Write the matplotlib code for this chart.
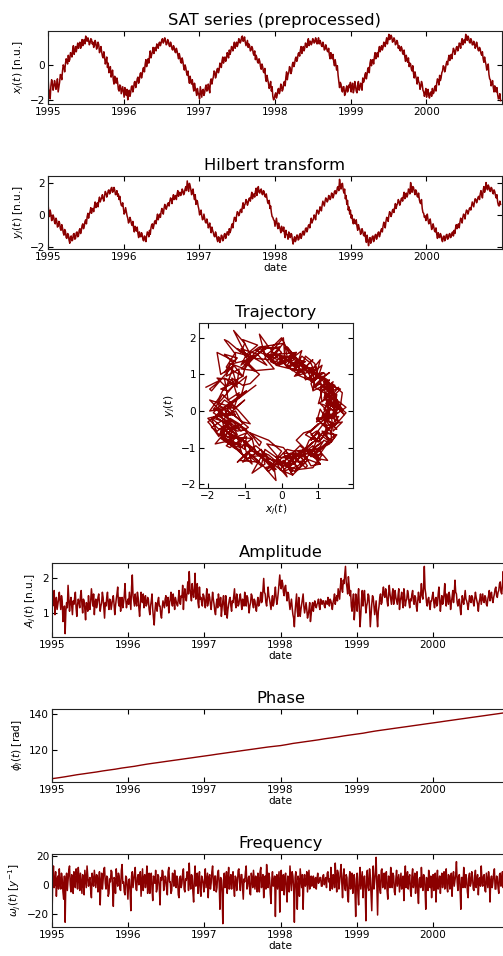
import numpy as np
import pandas as pd
import matplotlib
matplotlib.use("Agg")
import matplotlib.pyplot as plt
import matplotlib.dates as mdates
from matplotlib.ticker import MultipleLocator

# ---------------- data (half-week samples) ----------------
start_date = "1995-01-01"
step = "84h"   # 3.5 days

x_1995 = [-0.70, -1.35, -1.55, -1.95, -1.20, -0.85, -1.05, -1.45, -1.25, -0.90, -1.10, -1.40, -1.15, -0.80, -1.55, -1.25,
          -0.99, -0.55, -0.60, -0.85, -0.35, 0.00, -0.10, -0.40, 0.05, 0.35, 0.25, 0.05, 0.55, 0.20, 0.30, 0.70, 0.65, 0.45,
          0.85, 1.10, 0.60, 0.80, 1.05, 0.75, 1.00, 1.25, 0.95, 1.20, 1.30, 0.95, 1.15, 1.45, 1.10, 1.35, 1.45, 1.20, 1.65,
          1.40, 1.35, 1.55, 1.40, 1.15, 1.25, 1.50, 1.45, 1.20, 1.30, 1.00, 1.10, 1.40, 1.25, 0.90, 1.05, 1.30, 1.15, 0.70,
          0.85, 1.05, 0.75, 0.50, 0.40, 0.75, 0.45, 0.05, 0.20, 0.45, -0.15, 0.10, -0.45, -0.20, -0.10, -0.70, -0.55, -0.30,
          -0.85, -1.10, -0.65, -0.95, -1.05, -0.75, -1.00, -1.40, -1.50, -1.15, -1.20, -1.65, -1.45, -1.25]
x_1996 = [-1.55, -1.85, -1.30, -1.60, -1.75, -1.40, -2.00, -1.70, -1.45, -1.80, -1.60, -1.25, -1.20, -1.55, -1.35, -1.00,
          -0.95, -1.30, -1.10, -0.80, -0.70, -1.05, -0.85, -0.50, -0.45, -0.75, -0.55, -0.20, -0.15, -0.40, 0.05, 0.30,
          -0.10, 0.15, 0.35, 0.10, 0.50, 0.80, 0.40, 0.60, 0.75, 1.00, 0.65, 0.95, 1.00, 0.80, 1.20, 1.05, 0.95, 1.25,
          1.30, 1.10, 1.25, 1.45, 1.50, 1.25, 1.35, 1.55, 1.40, 1.15, 1.20, 1.45, 1.35, 1.10, 1.05, 1.30, 1.15, 0.90,
          0.85, 1.10, 1.00, 0.75, 0.70, 0.95, 0.80, 0.55, 0.35, 0.65, 0.45, 0.15, 0.10, 0.40, 0.20, -0.10, -0.30, 0.00,
          -0.15, -0.45, -0.60, -0.35, -0.80, -1.05, -0.65, -0.95, -1.10, -0.85, -1.25, -1.50, -1.05, -1.30, -1.50, -1.75,
          -1.35, -1.60]
x_1997 = [-1.70, -1.95, -1.25, -1.55, -1.85, -1.45, -1.40, -1.75, -1.60, -1.30, -1.15, -1.50, -1.45, -1.10, -1.30, -1.60,
          -0.95, -0.80, -1.10, -0.85, -0.70, -0.35, -0.40, -0.75, -0.60, -0.25, -0.20, -0.45, -0.30, 0.10, 0.05, -0.15,
          0.25, 0.45, 0.10, 0.35, 0.45, 0.20, 0.35, 0.70, 0.60, 0.40, 0.85, 0.60, 0.75, 1.05, 1.00, 0.80, 1.10, 1.30,
          0.95, 1.15, 1.30, 1.05, 1.20, 1.50, 1.45, 1.25, 1.35, 1.60, 1.65, 1.35, 1.40, 1.60, 1.30, 1.10, 1.25, 1.40,
          1.00, 1.20, 1.10, 0.80, 0.85, 1.05, 0.95, 0.65, 0.55, 0.80, 0.30, 0.55, 0.40, 0.15, 0.10, 0.35, 0.20, -0.10,
          -0.25, 0.05, -0.10, -0.40, -0.45, -0.20, -0.75, -0.95, -0.60, -0.85, -1.05, -1.35, -1.20, -0.95, -1.50, -1.25,
          -1.80, -2.00]
x_1998 = [-1.95, -1.70, -1.60, -1.90, -1.75, -1.40, -1.35, -1.65, -1.50, -1.10, -1.20, -1.50, -1.40, -1.05, -0.95, -1.20,
          -0.70, -0.40, -0.85, -0.55, -0.45, -0.10, -0.20, -0.50, -0.35, 0.05, 0.15, -0.10, 0.05, 0.35, 0.45, 0.20, 0.35,
          0.65, 0.70, 0.50, 0.85, 1.05, 0.65, 0.90, 1.05, 0.80, 0.95, 1.25, 1.15, 1.00, 1.30, 1.50, 1.10, 1.35, 1.35,
          1.15, 1.25, 1.50, 1.45, 1.25, 1.30, 1.55, 1.40, 1.20, 1.35, 1.55, 1.20, 1.40, 1.30, 1.10, 1.05, 1.30, 1.15,
          0.85, 0.90, 1.15, 1.00, 0.80, 0.75, 0.95, 0.55, 0.35, 0.70, 0.45, 0.35, 0.60, 0.15, -0.05, 0.30, 0.00, -0.30,
          -0.05, -0.60, -0.95, -1.30, -1.00, -1.10, -1.45, -1.55, -1.25, -1.25, -1.75, -1.65, -1.35, -1.20, -1.55, -1.45,
          -1.15]
x_1999 = [-1.30, -1.00, -1.55, -1.25, -1.05, -1.60, -1.40, -0.95, -1.20, -1.50, -1.60, -1.15, -0.95, -1.45, -1.35, -1.05,
          -1.10, -1.45, -0.75, -1.00, -0.90, -0.55, -0.45, -0.80, -0.55, -0.20, -0.15, -0.45, 0.10, 0.30, -0.05, 0.25,
          0.30, 0.05, 0.45, 0.70, 0.35, 0.55, 0.70, 0.45, 0.85, 1.05, 0.75, 0.95, 1.10, 0.85, 1.00, 1.30, 1.25, 1.05,
          1.35, 1.55, 1.20, 1.45, 1.75, 1.45, 1.50, 1.70, 1.60, 1.30, 1.35, 1.55, 1.45, 1.15, 1.20, 1.40, 1.30, 0.95,
          1.10, 0.85, 0.80, 1.05, 0.95, 0.65, 0.60, 0.85, 0.45, 0.20, 0.55, 0.30, 0.15, 0.40, -0.10, 0.10, 0.05, -0.25,
          -0.35, -0.05, -0.50, -0.75, -0.40, -0.65, -0.80, -1.10, -0.70, -0.95, -1.05, -1.40, -1.25, -0.95, -1.10, -1.45,
          -1.55, -1.80]
x_2000 = [-1.60, -1.35, -1.85, -1.55, -1.40, -1.75, -1.90, -1.60, -1.55, -1.80, -1.35, -1.65, -1.60, -1.30, -1.20, -1.50,
          -1.05, -0.80, -0.90, -1.15, -0.60, -0.90, -0.75, -0.45, -0.35, -0.05, -0.10, -0.40, -0.25, 0.05, 0.20, 0.00,
          0.35, 0.55, 0.25, 0.45, 0.60, 0.35, 0.70, 0.95, 0.85, 0.60, 0.75, 1.00, 1.05, 0.80, 0.95, 1.25, 1.20, 0.95,
          1.30, 1.50, 1.15, 1.35, 1.45, 1.25, 1.75, 1.50, 1.40, 1.65, 1.55, 1.30, 1.25, 1.50, 1.40, 1.15, 1.15, 1.35,
          1.25, 0.95, 1.05, 1.30, 1.10, 0.85, 0.80, 1.00, 0.90, 0.65, 0.55, 0.75, 0.35, 0.15, 0.45, 0.20, 0.00, -0.30,
          -0.20, 0.05, -0.55, -0.80, -0.85, -1.20, -1.10, -0.90, -1.30, -1.55, -1.20, -1.45, -1.55, -1.30, -1.70, -1.95,
          -1.90, -1.65, -2.05]

y_1995 = [0.70, 0.20, -0.10, 0.30, 0.05, -0.35, -0.30, 0.00, -0.15, -0.45, -0.55, -0.20, -0.35, -0.75, -0.70, -0.40,
          -0.50, -0.85, -0.95, -0.60, -0.80, -1.10, -1.25, -0.90, -1.00, -1.40, -1.45, -1.15, -1.20, -1.55, -1.75, -1.35,
          -1.30, -1.60, -1.55, -1.20, -1.15, -1.50, -1.45, -1.10, -1.05, -1.35, -1.30, -0.95, -0.85, -1.15, -0.95, -0.65,
          -0.55, -0.85, -0.70, -0.40, -0.30, -0.55, -0.10, 0.10, -0.20, 0.05, 0.20, 0.45, 0.10, 0.35, 0.40, 0.20, 0.55,
          0.80, 0.45, 0.65, 0.75, 0.50, 0.90, 1.10, 0.80, 0.95, 1.05, 1.25, 1.00, 0.85, 1.20, 1.45, 1.35, 1.10, 1.25,
          1.50, 1.55, 1.30, 1.40, 1.65, 1.70, 1.40, 1.45, 1.70, 1.55, 1.25, 1.30, 1.50, 1.15, 1.30, 0.95, 1.15, 0.80,
          0.60, 0.55, 0.75]
y_1996 = [0.40, 0.05, 0.15, 0.45, 0.20, -0.05, -0.20, -0.50, -0.40, -0.15, -0.30, -0.55, -0.65, -0.40, -0.80, -1.05,
          -0.70, -0.95, -1.00, -0.75, -1.15, -1.40, -1.05, -1.30, -1.35, -1.10, -1.25, -1.55, -1.60, -1.30, -1.40, -1.65,
          -1.30, -1.05, -1.10, -1.35, -0.95, -1.20, -0.80, -0.60, -0.55, -0.85, -0.65, -0.40, -0.35, -0.55, -0.20, 0.05,
          -0.30, -0.10, 0.05, -0.15, 0.20, 0.40, 0.25, 0.05, 0.40, 0.65, 0.55, 0.35, 0.50, 0.70, 0.75, 0.55, 0.85, 1.05,
          0.95, 0.70, 1.05, 1.25, 0.95, 1.15, 1.20, 0.95, 1.30, 1.50, 1.15, 1.35, 1.40, 1.20, 1.30, 1.60, 1.50, 1.25,
          1.35, 1.60, 1.75, 1.50, 2.10, 1.75, 1.45, 1.95, 1.80, 1.55, 1.25, 1.50, 1.60, 1.20, 0.95, 1.25, 0.65, 0.90,
          0.85, 0.55]
y_1997 = [0.35, 0.00, 0.10, 0.30, -0.05, -0.30, -0.25, 0.05, -0.20, -0.45, -0.50, -0.25, -0.45, -0.80, -0.70, -0.50,
          -0.85, -1.10, -0.75, -0.95, -1.10, -1.30, -1.35, -1.05, -1.20, -1.50, -1.65, -1.35, -1.40, -1.70, -1.55, -1.25,
          -1.30, -1.60, -1.50, -1.20, -1.15, -1.45, -1.30, -1.05, -1.05, -1.25, -0.85, -1.10, -0.95, -0.70, -0.55, -0.80,
          -0.40, -0.15, -0.20, -0.40, -0.05, 0.20, 0.15, -0.05, 0.05, 0.30, 0.35, 0.15, 0.50, 0.75, 0.40, 0.60, 0.70,
          0.95, 0.85, 0.60, 0.75, 1.00, 1.05, 0.85, 1.15, 1.40, 1.00, 1.25, 1.30, 1.10, 1.45, 1.65, 1.20, 1.50, 1.75,
          1.40, 1.35, 1.55, 1.60, 1.30, 1.25, 1.50, 1.45, 1.15, 1.10, 1.30, 1.00, 0.75, 0.70, 0.90, 0.40, 0.55, 0.15,
          -0.10, -0.15, -0.30]
y_1998 = [-0.35, -0.70, -0.45, -0.20, -0.60, -0.85, -0.50, -0.75, -0.85, -1.10, -0.70, -0.95, -1.00, -0.75, -1.15, -1.40,
          -0.95, -1.20, -1.25, -1.50, -1.05, -1.30, -1.40, -1.15, -1.20, -1.55, -1.80, -1.50, -1.35, -1.65, -1.55, -1.25,
          -1.25, -1.55, -1.50, -1.20, -1.15, -1.45, -1.30, -1.05, -1.00, -1.25, -1.10, -0.85, -0.80, -1.05, -0.90, -0.65,
          -0.60, -0.80, -0.45, -0.20, -0.50, -0.35, -0.25, 0.00, -0.10, -0.30, 0.10, 0.30, 0.25, 0.05, 0.20, 0.50, 0.45,
          0.25, 0.60, 0.85, 0.70, 0.55, 0.85, 1.05, 1.00, 0.80, 0.90, 1.20, 1.15, 0.95, 1.05, 1.35, 1.30, 1.05, 1.20,
          1.45, 1.50, 1.30, 1.40, 1.70, 1.75, 1.50, 2.20, 1.85, 1.60, 1.90, 1.95, 1.55, 1.35, 1.60, 1.00, 1.20, 0.65,
          0.90, 0.30, 0.50]
y_1999 = [0.05, 0.30, -0.20, 0.00, -0.35, -0.55, -0.25, -0.50, -0.55, -0.30, -0.70, -0.95, -0.60, -0.80, -0.90, -1.20,
          -1.10, -0.85, -1.00, -1.25, -1.30, -1.05, -1.45, -1.70, -1.25, -1.55, -1.90, -1.55, -1.40, -1.75, -1.60, -1.35,
          -1.30, -1.65, -1.50, -1.25, -1.20, -1.50, -1.35, -1.10, -1.05, -1.35, -1.20, -0.95, -0.85, -1.05, -0.70, -0.45,
          -0.55, -0.80, -0.40, -0.15, -0.20, -0.40, -0.05, 0.20, 0.10, -0.10, 0.05, 0.30, 0.35, 0.15, 0.45, 0.70, 0.40,
          0.60, 0.70, 0.95, 0.85, 0.60, 0.75, 1.00, 1.05, 0.85, 1.15, 1.40, 1.00, 1.20, 1.35, 1.10, 1.25, 1.60, 1.55,
          1.30, 2.00, 1.65, 1.40, 1.75, 1.70, 1.45, 1.25, 1.55, 1.45, 1.15, 1.10, 1.35, 0.95, 0.75, 0.70, 0.95, 0.40,
          0.15, 0.10, -0.15]
y_2000 = [-0.05, -0.35, -0.20, 0.05, -0.30, -0.55, -0.45, -0.25, -0.60, -0.90, -0.80, -0.55, -0.75, -1.00, -1.05, -0.80,
          -1.20, -1.45, -1.10, -1.35, -1.40, -1.15, -1.25, -1.55, -1.65, -1.35, -1.30, -1.60, -1.50, -1.25, -1.20, -1.50,
          -1.45, -1.20, -1.15, -1.40, -1.35, -1.10, -1.05, -1.30, -0.95, -1.15, -0.80, -0.60, -0.85, -0.65, -0.55, -0.80,
          -0.45, -0.20, -0.30, -0.50, -0.15, 0.05, -0.05, -0.25, 0.10, 0.30, 0.25, 0.05, 0.20, 0.40, 0.45, 0.30, 0.55,
          0.80, 0.65, 0.50, 0.80, 1.00, 0.95, 0.75, 0.90, 1.10, 1.15, 0.95, 1.30, 1.50, 1.25, 1.05, 1.50, 1.75, 1.40,
          1.60, 2.00, 1.70, 1.55, 1.85, 1.75, 1.50, 1.45, 1.70, 1.65, 1.40, 1.30, 1.55, 1.45, 1.20, 1.05, 1.25, 0.80,
          0.60, 0.55, 0.85, 0.65]

amp_1995 = [1.55, 1.20, 1.30, 1.65, 0.95, 1.25, 1.45, 1.10, 1.25, 1.40, 1.60, 1.35, 1.10, 1.50, 1.35, 0.75, 0.85, 1.20,
            0.40, 1.05, 1.30, 1.15, 1.80, 1.40, 1.05, 1.30, 1.45, 1.20, 0.95, 1.35, 1.25, 1.45, 1.60, 1.15, 0.90, 1.25,
            1.40, 1.30, 1.15, 1.50, 1.65, 1.25, 1.00, 1.40, 1.35, 1.10, 0.80, 1.30, 1.25, 1.05, 1.50, 1.20, 1.10, 1.35,
            1.70, 1.45, 1.20, 1.55, 0.95, 1.30, 1.40, 1.15, 1.25, 1.45, 1.55, 1.30, 1.05, 1.20, 1.30, 1.60, 1.45, 1.15,
            0.85, 1.30, 1.20, 1.45, 1.60, 1.25, 1.10, 1.40, 1.35, 1.10, 1.25, 1.40, 1.50, 1.25, 0.95, 1.20, 1.40, 1.55,
            1.75, 1.30, 1.20, 1.45, 1.05, 1.35, 1.45, 1.15, 1.30, 1.50, 1.85, 1.40, 1.15, 1.30]
amp_1996 = [1.40, 1.25, 1.60, 1.35, 1.10, 1.75, 2.10, 1.50, 1.35, 1.20, 1.55, 1.30, 1.20, 1.60, 1.45, 1.15, 0.90, 1.25,
            1.60, 1.35, 1.30, 1.55, 1.15, 1.35, 1.50, 1.20, 1.25, 1.45, 1.40, 1.10, 0.95, 1.20, 1.35, 1.55, 1.10, 0.85,
            0.65, 1.05, 1.30, 1.15, 1.05, 1.35, 1.45, 1.20, 1.20, 0.95, 0.85, 1.15, 1.35, 1.25, 1.15, 1.40, 1.50, 1.20,
            1.25, 1.45, 1.00, 1.30, 1.40, 1.60, 1.30, 1.20, 1.55, 1.35, 1.10, 1.45, 1.35, 1.25, 1.20, 1.40, 1.65, 1.30,
            1.25, 1.50, 1.45, 1.80, 1.10, 1.50, 1.70, 1.45, 1.35, 1.60, 1.90, 1.55, 2.20, 1.70, 1.55, 1.35, 1.85, 1.60,
            1.45, 1.70, 2.15, 1.40, 1.60, 1.85, 1.30, 1.15, 1.75, 1.40, 1.45, 1.30, 1.20, 1.55]
amp_1997 = [1.50, 1.35, 1.15, 1.40, 1.70, 1.20, 1.30, 1.55, 1.45, 1.25, 1.10, 1.35, 1.60, 1.40, 1.25, 1.05, 0.95, 1.25,
            1.40, 1.15, 1.55, 1.30, 1.20, 1.45, 0.90, 1.15, 1.35, 1.50, 1.10, 0.95, 1.50, 1.25, 0.85, 1.10, 1.25, 1.40,
            1.45, 1.20, 1.05, 1.35, 1.30, 1.50, 1.70, 1.30, 1.15, 1.55, 1.40, 1.20, 1.25, 1.45, 1.55, 1.30, 1.10, 1.40,
            1.35, 1.20, 1.60, 1.35, 1.20, 1.50, 1.45, 1.25, 1.00, 1.20, 1.30, 1.55, 1.50, 1.25, 1.15, 1.40, 1.35, 1.15,
            1.05, 1.30, 1.45, 1.20, 1.25, 1.40, 1.60, 1.30, 1.35, 1.70, 2.00, 1.60, 1.55, 1.30, 1.20, 1.45, 1.75, 1.50,
            1.40, 1.25, 1.10, 1.35, 1.50, 1.20, 1.30, 1.55, 1.75, 1.45, 1.25, 1.40, 1.60, 1.85]
amp_1998 = [2.10, 1.80, 1.70, 1.95, 1.85, 1.60, 1.50, 1.75, 1.80, 1.55, 1.35, 1.60, 1.55, 1.30, 1.10, 1.25, 1.40, 1.15,
            0.95, 0.85, 0.60, 1.05, 1.30, 1.55, 1.05, 0.90, 1.45, 1.20, 0.90, 1.10, 1.25, 1.40, 1.55, 1.20, 1.00, 1.15,
            1.30, 1.10, 0.85, 0.95, 1.10, 1.30, 0.75, 0.95, 1.20, 1.30, 1.05, 1.25, 1.35, 1.20, 1.15, 1.25, 1.30, 1.40,
            1.20, 1.10, 1.40, 1.30, 1.25, 1.35, 1.35, 1.20, 1.15, 1.35, 1.30, 1.25, 1.45, 1.30, 1.20, 1.40, 1.35, 1.25,
            1.10, 1.30, 1.40, 1.55, 1.25, 1.40, 1.50, 1.35, 1.70, 1.55, 1.40, 1.75, 2.00, 1.70, 1.60, 1.95, 1.85, 2.10,
            2.35, 1.90, 1.75, 1.55, 2.05, 1.80, 1.50, 1.65, 1.20, 1.05, 1.35, 1.55, 0.80, 1.10]
amp_1999 = [1.55, 1.35, 1.05, 1.45, 1.70, 1.10, 0.60, 0.95, 1.40, 1.65, 1.20, 1.45, 1.65, 1.30, 1.00, 1.20, 1.30, 1.55,
            1.50, 1.15, 0.60, 0.95, 1.25, 1.50, 1.45, 1.20, 0.95, 1.15, 1.35, 0.90, 0.60, 1.05, 1.20, 1.45, 1.55, 1.25,
            1.30, 1.60, 1.75, 1.50, 1.45, 1.70, 1.60, 1.35, 1.20, 1.50, 1.80, 1.55, 1.40, 1.25, 1.55, 1.70, 1.25, 1.40,
            1.65, 1.45, 1.35, 1.25, 1.50, 1.70, 1.10, 1.35, 1.45, 1.60, 1.30, 1.15, 1.70, 1.50, 1.20, 1.35, 1.40, 1.65,
            1.55, 1.30, 1.15, 1.40, 1.35, 1.55, 1.65, 1.35, 1.25, 1.50, 1.45, 1.20, 1.05, 1.35, 1.60, 1.40, 1.30, 1.55,
            1.85, 1.50, 1.40, 1.75, 2.35, 1.70, 1.55, 1.30, 1.20, 1.40, 1.45, 1.25, 1.10, 1.35]
amp_2000 = [1.35, 1.50, 1.60, 1.30, 1.15, 1.40, 1.45, 1.20, 1.25, 1.55, 1.75, 1.40, 1.05, 1.30, 1.50, 1.25, 1.30, 1.55,
            1.85, 1.45, 1.20, 1.55, 1.40, 1.25, 1.60, 1.45, 1.10, 1.30, 1.45, 1.65, 1.30, 1.55, 1.95, 1.60, 1.55, 1.30,
            1.20, 1.35, 1.40, 1.15, 0.95, 1.25, 1.50, 1.35, 1.25, 1.45, 1.65, 1.40, 1.35, 1.25, 1.10, 1.30, 1.50, 1.35,
            1.30, 1.50, 1.45, 1.30, 1.20, 1.40, 1.60, 1.45, 1.35, 1.25, 1.05, 1.30, 1.40, 1.55, 1.25, 1.40, 1.55, 1.35,
            1.30, 1.50, 1.45, 1.25, 1.20, 1.40, 1.50, 1.65, 1.35, 1.50, 1.60, 1.40, 1.30, 1.45, 1.55, 1.70, 1.75, 1.50,
            1.45, 1.60, 1.65, 1.85, 1.90, 1.60, 1.55, 1.80, 2.20, 1.85, 1.70, 1.95, 2.05, 1.75, 2.20]

freq_1995 = [-23, 5, 13, -2, 2, 9, -8, 4, 6, -3, 11, 1, -3, 8, 4, -5, -10, 6, -26, 3, 8, -4, 3, 10, 13, 0, -5, 7, 2, -6,
             9, 3, -2, 11, 6, -3, 12, 5, -4, 8, 1, -6, 7, 2, -7, 10, 4, -2, 13, 6, -1, 3, 5, -4, -9, 8, 3, -1, 10, 4,
             -2, 7, 6, -5, 1, 9, -14, 2, 8, -3, 3, 11, 12, 1, -3, 6, 5, -8, -6, 4, 2, 10, 9, -2, -15, 5, 4, -6, 11, 3,
             -1, 8, 6, -3, -4, 10, 14, 1, 2, -5, -7, 6, 5, -2]
freq_1996 = [-10, 3, 4, -5, -18, 6, 9, -2, 3, 8, 12, -3, -4, 5, 7, 0, 1, 9, -8, 2, 11, -4, 5, 7, -2, 3, 13, -6, 2, 8,
             -6, 4, 8, -3, -11, 6, 4, 1, 10, -5, -3, 7, 6, -2, -14, 5, 3, 10, 9, -4, -1, 6, 5, -3, -7, 9, 12, 2, 2, -6,
             -4, 8, 7, -1, 10, 3, -2, 6, 4, -7, -9, 5, 6, -2, 1, 8, 11, -3, -5, 4, 3, 9, 8, -4, 15, 2, -3, 7, 6, -5,
             -12, 4, 13, -1, 2, 8, -6, 3, 9, -4, -8, 6, 4, 1]
freq_1997 = [-5, 4, 11, -2, 3, 8, -9, 5, 7, -3, 1, 9, 13, 2, -4, 6, 6, -5, -2, 8, 10, 1, -17, 5, 4, -6, -27, 3, 8, -2,
             2, 9, -6, 4, 12, -3, 3, 7, -3, 5, 9, -2, -8, 6, 5, -4, 1, 10, 11, 2, -4, 7, 7, -1, -10, 4, 2, 9, 13, -3,
             -1, 5, 6, -6, -7, 8, 4, -2, 10, 3, -3, 6, 1, -5, 8, 3, -5, 9, 12, -2, 3, 7, -9, 4, 6, -3, 14, 5, -2, 8,
             5, -6, -13, 3, 9, -1, 1, 6, -22, 4, 7, -3, 3, 9]
freq_1998 = [-19, 3, 10, -4, 4, 7, -7, 5, 8, -3, -12, 6, 2, -5, 13, 4, -4, 9, 6, -2, -26, 5, 9, -3, -17, 6, 3, -8, 11,
             4, -2, 7, -17, 3, 7, -1, 1, 9, -5, 2, 10, -3, 4, 6, -1, 3, 6, -2, 3, 5, -3, 4, 8, 1, 2, 5, 5, -1, -1, 6,
             7, 0, 3, 5, -2, 8, 9, 2, 4, -4, 12, 3, -3, 7, 6, -2, 15, 4, -5, 10, 8, -3, 2, 9, 14, 1, -9, 6, 11, -2,
             -4, 7, 5, -8, -12, 4, 9, -3, 3, 8, -6, 5, 7, -4]
freq_1999 = [-22, 4, 8, -6, -14, 5, 12, -3, 3, 9, -9, 2, 6, -4, -25, 7, 10, -2, -4, 11, 5, -6, -18, 4, 13, -3, 2, 9,
             19, -1, -21, 6, 7, -3, -6, 10, 11, -2, 1, 8, -3, 5, 9, -4, -10, 6, 4, -2, 12, 3, -2, 8, 6, -5, -7, 4, 10,
             -1, 3, 7, -5, 2, 8, -3, 1, 6, -11, 3, 13, -2, 4, 9, -3, 5, 7, -4, -8, 6, 11, -2, 2, 8, -6, 3, 9, -5, -13,
             4, 5, -2, 12, 3, -4, 7, 6, -3, -17, 5, 3, -4, 10, 2, -2, 6]
freq_2000 = [-9, 3, 7, -4, 3, 8, -12, 2, 10, -3, 1, 6, -6, 4, 8, -2, 4, 9, -3, 5, 11, -2, -5, 7, 6, -3, 2, 8, -8, 4,
             9, -1, 3, 7, 16, 2, -4, 6, 7, -3, -17, 5, 5, -2, 12, 3, -2, 7, 4, -5, -9, 6, 8, -1, 1, 9, 6, -3, -4, 5,
             10, -2, 3, 7, -7, 4, 5, -1, 13, 2, -1, 6, 7, -4, -5, 8, 3, -2, 9, 4, -12, 3, 6, -2, 2, 8, 11, -3, -3, 6,
             5, -2, -6, 7, 8, -1, 3, 9, -2, 4, 12, -1, 4, 7, -4]

# phase, monthly samples
phase_start = "1995-01-01"
phase_vals = [104.0, 104.5, 105.0, 105.6, 106.2, 106.7, 107.2, 107.7, 108.3, 108.8, 109.3, 109.9,
              110.4, 110.9, 111.5, 112.1, 112.6, 113.1, 113.6, 114.1, 114.6, 115.1, 115.6, 116.1,
              116.6, 117.1, 117.6, 118.1, 118.6, 119.1, 119.6, 120.1, 120.6, 121.1, 121.6, 122.0,
              122.4, 123.0, 123.6, 124.1, 124.6, 125.1, 125.6, 126.2, 126.7, 127.2, 127.8, 128.3,
              128.8, 129.3, 129.9, 130.5, 131.0, 131.5, 132.0, 132.5, 133.0, 133.5, 134.0, 134.5,
              135.0, 135.5, 136.0, 136.5, 137.0, 137.5, 138.0, 138.5, 139.0, 139.5, 140.0, 140.5,
              140.9]

x_vals = x_1995 + x_1996 + x_1997 + x_1998 + x_1999 + x_2000
y_vals = y_1995 + y_1996 + y_1997 + y_1998 + y_1999 + y_2000
amp_vals = amp_1995 + amp_1996 + amp_1997 + amp_1998 + amp_1999 + amp_2000
freq_vals = freq_1995 + freq_1996 + freq_1997 + freq_1998 + freq_1999 + freq_2000

xlim_dates = (pd.Timestamp("1995-01-01"), pd.Timestamp("2000-12-31"))

# ---------------- figure ----------------
W, H = 503, 956
fig = plt.figure(figsize=(W / 100, H / 100), dpi=100)
color = "#8b0000"
FS = 7.6
TFS = 11.8


def px_axes(left, top, right, bottom):
    return fig.add_axes([left / W, 1 - bottom / H, (right - left) / W, (bottom - top) / H])


def style(ax):
    ax.tick_params(direction="in", top=True, right=True, length=3.5, width=0.8,
                   labelsize=FS, pad=2)
    for s in ax.spines.values():
        s.set_linewidth(0.8)
        s.set_color("#222222")


def time_panel(ax, vals, title, ylabel, ystep, dates=None, xlabel=True, lw=1.1):
    if dates is None:
        dates = pd.date_range(start_date, periods=len(vals), freq=step)
    ax.plot(dates, vals, color=color, lw=lw)
    ax.set_xlim(*xlim_dates)
    ax.xaxis.set_major_locator(mdates.YearLocator())
    ax.xaxis.set_major_formatter(mdates.DateFormatter("%Y"))
    ax.yaxis.set_major_locator(MultipleLocator(ystep))
    ax.set_title(title, fontsize=TFS, pad=4.5)
    ax.set_ylabel(ylabel, fontsize=FS, labelpad=3)
    if xlabel:
        ax.set_xlabel("date", fontsize=FS, labelpad=1)
    style(ax)


ax1 = px_axes(48, 31, 502, 104)
time_panel(ax1, x_vals, "SAT series (preprocessed)", r"$x_j(t)$ [n.u.]", 2, xlabel=False)

ax2 = px_axes(48, 176, 502, 249)
time_panel(ax2, y_vals, "Hilbert transform", r"$y_j(t)$ [n.u.]", 2)

ax3 = px_axes(199, 323, 353, 488)
n = min(len(x_vals), len(y_vals))
ax3.plot(x_vals[:n], y_vals[:n], color=color, lw=1.0)
ax3.xaxis.set_major_locator(MultipleLocator(1))
ax3.yaxis.set_major_locator(MultipleLocator(1))
ax3.set_title("Trajectory", fontsize=TFS, pad=4.5)
ax3.set_xlabel(r"$x_j(t)$", fontsize=FS, labelpad=1)
ax3.set_ylabel(r"$y_j(t)$", fontsize=FS, labelpad=3)
style(ax3)

ax4 = px_axes(52, 563, 509, 637)
time_panel(ax4, amp_vals, "Amplitude", r"$A_j(t)$ [n.u.]", 1)

ax5 = px_axes(52, 709, 509, 782)
phase_dates = pd.date_range(phase_start, periods=len(phase_vals), freq="MS")
time_panel(ax5, phase_vals, "Phase", r"$\phi_j(t)$ [rad]", 20, dates=phase_dates, lw=1.0)

ax6 = px_axes(52, 854, 509, 927)
time_panel(ax6, freq_vals, "Frequency", r"$\omega_j(t)$ [$y^{-1}$]", 20)

fig.savefig("out.png", dpi=100)
